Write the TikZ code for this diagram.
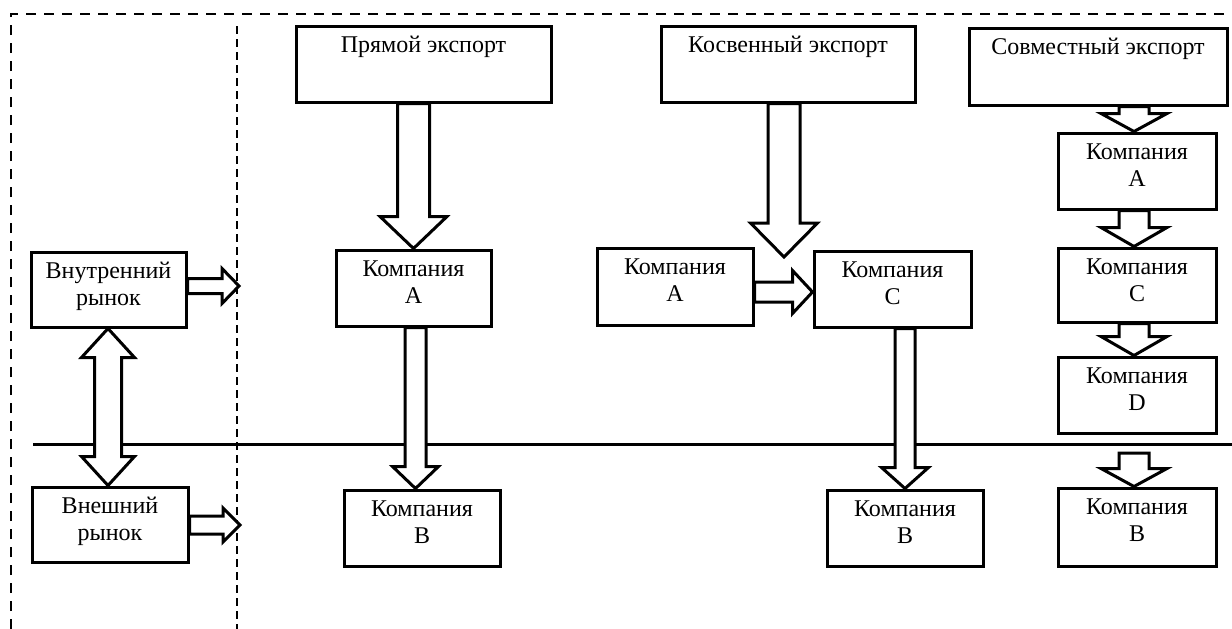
\documentclass[tikz,border=0pt]{standalone}
\usepackage{fontspec}
\setmainfont{Liberation Serif}
\usetikzlibrary{calc}
\tikzset{
  box/.style={draw, line width=3pt, rectangle, inner sep=0pt, fill=white},
  txt/.style={font=\fontsize{24}{26}\selectfont, inner sep=0pt, anchor=base},
  blk/.style={draw, fill=white, line width=3pt, line join=miter},
  outerdash/.style={line width=2.5pt, dash pattern=on 10pt off 8pt},
  innerdash/.style={line width=2pt, dash pattern=on 8pt off 5pt},
  divline/.style={line width=3pt},
}
\newcommand{\bx}[5]{\node[box, minimum width={(#4-#2)*1pt}, minimum height={(#5-#3)*1pt}] (#1) at ({(#2+#4)/2},{(#3+#5)/2}) {};}
\newcommand{\oneline}[2]{\node[txt] (#1-l1) at ($(#1.north)+(0,28)$) {#2};}
\newcommand{\twolines}[3]{\node[txt] (#1-l1) at ($(#1.north)+(0,28)$) {#2};
  \node[txt] (#1-l2) at ($(#1.north)+(0,55)$) {#3};}
% down arrow: from, tip, shaft half, head half, head length
\newcommand{\darrow}[5]{\draw[blk] let \p1=#1, \p2=#2 in
  ({\x2-#3pt},{\y1}) -- ({\x2-#3pt},{\y2+#5pt}) -- ({\x2-#4pt},{\y2+#5pt}) -- (\x2,\y2)
  -- ({\x2+#4pt},{\y2+#5pt}) -- ({\x2+#3pt},{\y2+#5pt}) -- ({\x2+#3pt},{\y1}) -- cycle;}
% right arrow
\newcommand{\rarrow}[5]{\draw[blk] let \p1=#1, \p2=#2 in
  ({\x1},{\y2+#3pt}) -- ({\x2-#5pt},{\y2+#3pt}) -- ({\x2-#5pt},{\y2+#4pt}) -- (\x2,\y2)
  -- ({\x2-#5pt},{\y2-#4pt}) -- ({\x2-#5pt},{\y2-#3pt}) -- ({\x1},{\y2-#3pt}) -- cycle;}
% double vertical arrow: top tip, bottom tip
\newcommand{\dvarrow}[5]{\draw[blk] let \p1=#1, \p2=#2 in
  (\x1,\y1) -- ({\x1+#4pt},{\y1-#5pt}) -- ({\x1+#3pt},{\y1-#5pt}) -- ({\x1+#3pt},{\y2+#5pt})
  -- ({\x1+#4pt},{\y2+#5pt}) -- (\x1,\y2) -- ({\x1-#4pt},{\y2+#5pt}) -- ({\x1-#3pt},{\y2+#5pt})
  -- ({\x1-#3pt},{\y1-#5pt}) -- ({\x1-#4pt},{\y1-#5pt}) -- cycle;}
\begin{document}
\begin{tikzpicture}[x=1pt, y=-1pt]
\useasboundingbox (0,0) rectangle (1232,629);
% frame and dividers
\draw[outerdash] (11,629) -- (11,14) -- (1232,14);
\draw[innerdash] (237,26) -- (237,629);
\draw[divline] (33,444) -- (1232,444);
% boxes
\bx{vnutr}{31}{252}{186}{327}
\bx{vnesh}{32}{487}{188}{562}
\bx{pryam}{296}{26}{551}{102}
\bx{dirA}{336}{250}{491}{326}
\bx{dirB}{344}{490}{500}{566}
\bx{kosv}{661}{26}{915}{102}
\bx{indA}{597}{248}{753}{325}
\bx{indC}{814}{251}{971}{327}
\bx{indB}{827}{490}{983}{566}
\bx{sovm}{969}{28}{1227}{105}
\bx{jA}{1058}{133}{1216}{209}
\bx{jC}{1058}{248}{1216}{322}
\bx{jD}{1058}{357}{1216}{433}
\bx{jB}{1058}{488}{1216}{566}
% texts
\twolines{vnutr}{Внутренний}{рынок}
\twolines{vnesh}{Внешний}{рынок}
\oneline{pryam}{Прямой экспорт}
\twolines{dirA}{Компания}{A}
\twolines{dirB}{Компания}{B}
\oneline{kosv}{Косвенный экспорт}
\twolines{indA}{Компания}{A}
\twolines{indC}{Компания}{C}
\twolines{indB}{Компания}{B}
\oneline{sovm}{Совместный экспорт}
\twolines{jA}{Компания}{A}
\twolines{jC}{Компания}{C}
\twolines{jD}{Компания}{D}
\twolines{jB}{Компания}{B}
% free arrow ends
\coordinate (r1) at (239,286);
\coordinate (r2) at (240,525);
\coordinate (k1) at (784,257);
\coordinate (j0) at (1134,453);
% arrows
\rarrow{(vnutr.east)}{(r1)}{7.5}{17.5}{17}
\rarrow{(vnesh.east)}{(r2)}{9}{17}{17}
\dvarrow{($(vnutr.south)+(-0.5,0)$)}{($(vnesh.north)+(-2,0)$)}{13.5}{26.5}{29}
\darrow{(pryam.south)}{(dirA.north)}{16}{33.5}{32}
\darrow{(dirA.south)}{($(dirB.north)+(-6.5,0)$)}{10.5}{23}{22}
\darrow{(kosv.south)}{(k1)}{16}{33.5}{34}
\rarrow{(indA.east)}{($(indC.west)+(0,3)$)}{10}{21.5}{20}
\darrow{(indC.south)}{(indB.north)}{10}{23.5}{21}
\darrow{(sovm.south)}{($(jA.north)+(-3,0)$)}{15}{33}{18}
\darrow{(jA.south)}{($(jC.north)+(-3,0)$)}{15}{33}{19}
\darrow{(jC.south)}{($(jD.north)+(-3,0)$)}{15}{33}{19}
\darrow{(j0)}{($(jB.north)+(-3,0)$)}{15}{33}{18}
\end{tikzpicture}
\end{document}
